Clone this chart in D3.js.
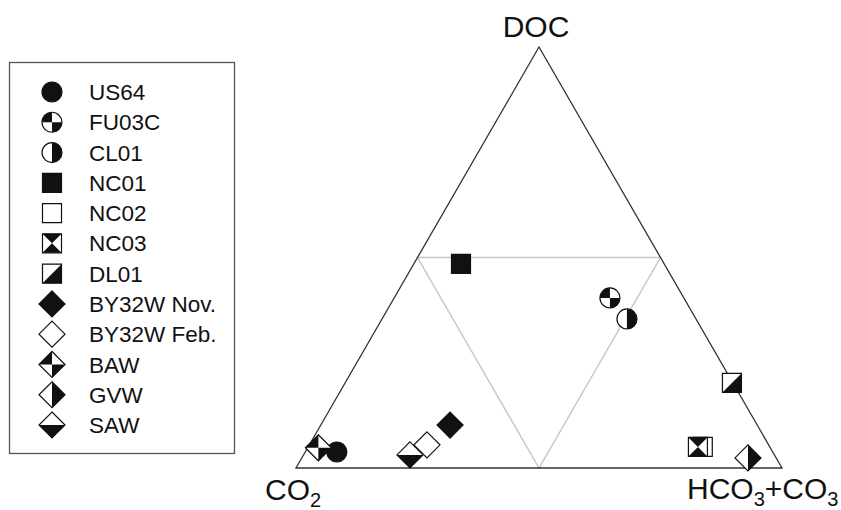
<!DOCTYPE html>
<html>
<head>
<meta charset="utf-8">
<script src="https://cdn.jsdelivr.net/npm/d3@7"></script>
<style>
  body { margin: 0; background: #fff; }
  svg { display: block; font-family: "Liberation Sans", Arial, sans-serif; }
</style>
</head>
<body>
<div id="chart"></div>
<script>
var width = 841,
    height = 510;

// sample sites and their marker types
var sites = ["US64", "FU03C", "CL01", "NC01", "NC02", "NC03", "DL01",
             "BY32W Nov.", "BY32W Feb.", "BAW", "GVW", "SAW"];
var symbols = ["circle", "circleQuarter", "circleHalf", "square", "squareOpen",
               "squareHourglass", "squareDiag", "diamond", "diamondOpen",
               "diamondQuarter", "diamondHalfV", "diamondHalfH"];

// ternary fractions
var co2  = [0.897, 0.152, 0.142, 0.418, 0.138, 0.148, 0.002, 0.632, 0.703, 0.930, 0.058, 0.750];
var doc  = [0.038, 0.404, 0.354, 0.485, 0.050, 0.050, 0.202, 0.102, 0.055, 0.048, 0.024, 0.031];
var hco3 = [0.065, 0.444, 0.504, 0.097, 0.812, 0.802, 0.796, 0.266, 0.242, 0.022, 0.918, 0.219];

var ink = "#111";

var svg = d3.select("#chart").append("svg")
    .attr("width", width)
    .attr("height", height);

// triangle scales: x runs along the base, y is the DOC share
var x = d3.scaleLinear().domain([0, 1]).range([296, 782]);
var y = d3.scaleLinear().domain([0, 1]).range([468, 47]);

function project(c, d, h) {
    var s = c + d + h;
    d = d / s; h = h / s;
    return [x(h + d / 2), y(d)];
}

var line = d3.line();

// inner grey triangle joining the mid points
var mids = [project(0.5, 0.5, 0), project(0, 0.5, 0.5), project(0.5, 0, 0.5)];
svg.append("path")
    .attr("d", line(mids) + "Z")
    .attr("fill", "none")
    .attr("stroke", "#c8c8c8")
    .attr("stroke-width", 1.5);

// outer triangle
var corners = [project(1, 0, 0), project(0, 1, 0), project(0, 0, 1)];
svg.append("path")
    .attr("d", line(corners) + "Z")
    .attr("fill", "none")
    .attr("stroke", "#333")
    .attr("stroke-width", 1.3);

// corner labels
svg.append("text")
    .attr("x", corners[1][0] - 3)
    .attr("y", 37)
    .attr("text-anchor", "middle")
    .style("font-size", "30px")
    .attr("fill", ink)
    .text("DOC");

var lblCO2 = svg.append("text")
    .attr("x", 265)
    .attr("y", 500)
    .style("font-size", "30px")
    .attr("fill", ink);
lblCO2.append("tspan").text("CO");
lblCO2.append("tspan").attr("dy", 7).style("font-size", "20px").text("2");

var lblHCO = svg.append("text")
    .attr("x", 687)
    .attr("y", 499)
    .style("font-size", "30px")
    .attr("fill", ink);
lblHCO.append("tspan").text("HCO");
lblHCO.append("tspan").attr("dy", 7).style("font-size", "20px").text("3");
lblHCO.append("tspan").attr("dy", -7).text("+CO");
lblHCO.append("tspan").attr("dy", 7).style("font-size", "20px").text("3");

// marker drawing
function poly(pts) { return line(pts) + "Z"; }

function drawSymbol(g, type) {
    var r = 10, s = 9.5, d = 13;
    var arc = d3.arc().innerRadius(0).outerRadius(r);
    var sq = [[-s, -s], [s, -s], [s, s], [-s, s]];
    var dm = [[0, -d], [d, 0], [0, d], [-d, 0]];
    if (type.indexOf("circle") === 0) {
        g.append("circle").attr("r", r)
            .attr("fill", type === "circle" ? ink : "#fff");
        if (type === "circleQuarter") {
            g.append("path").attr("fill", ink)
                .attr("d", arc({ startAngle: -Math.PI / 2, endAngle: 0 }));
            g.append("path").attr("fill", ink)
                .attr("d", arc({ startAngle: Math.PI / 2, endAngle: Math.PI }));
        } else if (type === "circleHalf") {
            g.append("path").attr("fill", ink)
                .attr("d", arc({ startAngle: 0, endAngle: Math.PI }));
        }
        g.append("circle").attr("r", r)
            .attr("fill", "none").attr("stroke", ink).attr("stroke-width", 1.2);
    } else if (type.indexOf("square") === 0) {
        g.append("path").attr("d", poly(sq))
            .attr("fill", type === "square" ? ink : "#fff");
        if (type === "squareHourglass") {
            g.append("path").attr("fill", ink).attr("d", poly([[-s, -s], [s, -s], [0, 0]]));
            g.append("path").attr("fill", ink).attr("d", poly([[-s, s], [s, s], [0, 0]]));
        } else if (type === "squareDiag") {
            g.append("path").attr("fill", ink).attr("d", poly([[s, -s], [s, s], [-s, s]]));
        }
        g.append("path").attr("d", poly(sq))
            .attr("fill", "none").attr("stroke", ink).attr("stroke-width", 1.2);
    } else {
        g.append("path").attr("d", poly(dm))
            .attr("fill", type === "diamond" ? ink : "#fff");
        if (type === "diamondQuarter") {
            g.append("path").attr("fill", ink).attr("d", poly([[0, -d], [-d, 0], [0, 0]]));
            g.append("path").attr("fill", ink).attr("d", poly([[0, d], [d, 0], [0, 0]]));
        } else if (type === "diamondHalfV") {
            g.append("path").attr("fill", ink).attr("d", poly([[0, -d], [d, 0], [0, d]]));
        } else if (type === "diamondHalfH") {
            g.append("path").attr("fill", ink).attr("d", poly([[-d, 0], [d, 0], [0, d]]));
        }
        g.append("path").attr("d", poly(dm))
            .attr("fill", "none").attr("stroke", ink).attr("stroke-width", 1.2);
    }
}

// data points
var points = sites.map(function (name, i) {
    return { name: name, symbol: symbols[i], pos: project(co2[i], doc[i], hco3[i]) };
});

svg.append("g").attr("class", "points")
    .selectAll("g")
    .data(points)
    .join("g")
    .attr("transform", function (p) { return "translate(" + p.pos[0] + "," + p.pos[1] + ")"; })
    .each(function (p) { drawSymbol(d3.select(this), p.symbol); });

// legend
svg.append("rect")
    .attr("x", 9.5).attr("y", 62.5)
    .attr("width", 225).attr("height", 391)
    .attr("fill", "#fff")
    .attr("stroke", "#555")
    .attr("stroke-width", 1.3);

var row = d3.scaleLinear().domain([0, sites.length - 1]).range([92, 425]);

var legend = svg.append("g").attr("class", "legend")
    .selectAll("g")
    .data(points)
    .join("g")
    .attr("transform", function (p, i) { return "translate(52," + row(i) + ")"; });

legend.each(function (p) { drawSymbol(d3.select(this), p.symbol); });

legend.append("text")
    .attr("x", 37)
    .attr("dy", "0.36em")
    .style("font-size", "22.5px")
    .attr("fill", ink)
    .text(function (p) { return p.name; });
</script>
</body>
</html>
